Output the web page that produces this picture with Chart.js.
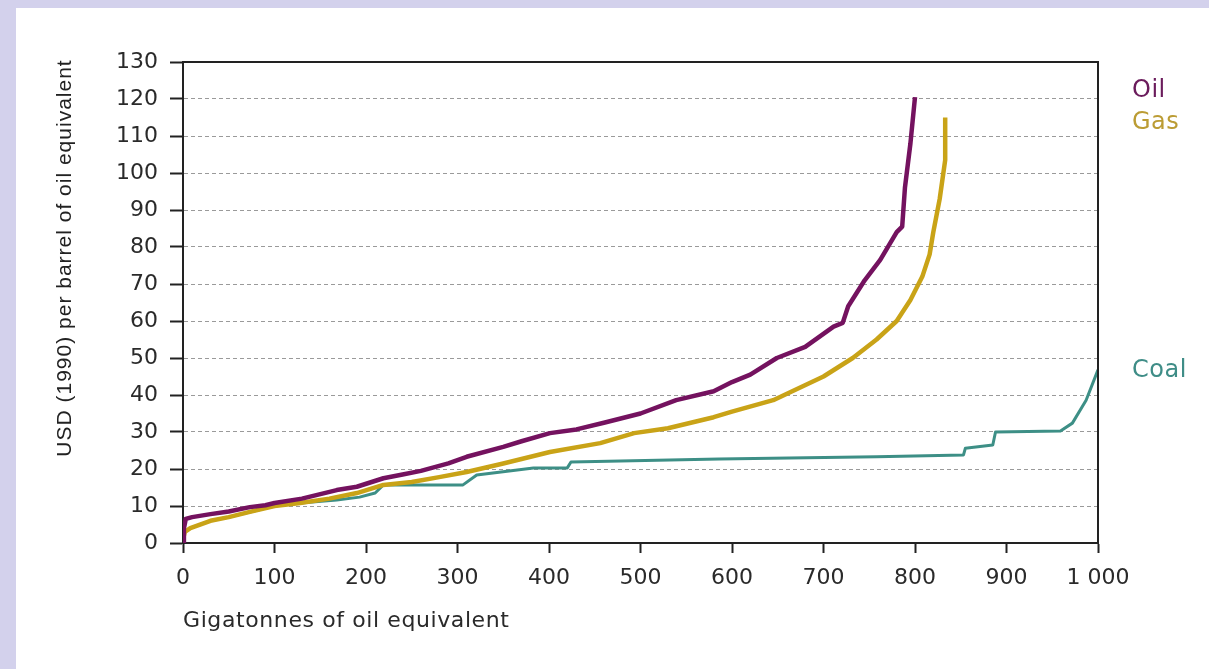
<!DOCTYPE html>
<html>
<head>
<meta charset="utf-8">
<title>Fossil fuel supply cost curves</title>
<script src="https://cdn.jsdelivr.net/npm/chart.js@4/dist/chart.umd.min.js"></script>
<style>
  html, body { margin: 0; padding: 0; background: #d3d1ec; overflow: hidden; }
  #panel { position: absolute; left: 16px; top: 8px; width: 1193px; height: 661px; background: #fff; }
</style>
</head>
<body>
<div id="panel"><canvas id="chart"></canvas></div>
<script>
  // Gigatonnes of oil equivalent (x) vs USD (1990) per barrel of oil equivalent (y)
  const oilX = [0, 1, 3, 10, 30, 50, 73, 90, 100, 130, 168, 190, 219, 240, 260, 290, 310, 350, 370, 401, 430, 460, 500, 539, 580, 600, 620, 649, 680, 711, 721, 727, 745, 762, 780, 786, 789, 795, 800];
  const oilY = [0, 4, 6.5, 7, 7.8, 8.5, 9.7, 10.2, 10.8, 12, 14.3, 15.2, 17.5, 18.5, 19.5, 21.5, 23.3, 26, 27.5, 29.7, 30.7, 32.5, 35, 38.6, 41, 43.5, 45.5, 50, 53, 58.5, 59.5, 64, 71, 76.5, 84, 85.5, 96, 108, 120.5];

  const gasX = [0, 2, 8, 30, 50, 73, 100, 128, 160, 190, 219, 250, 280, 310, 350, 401, 456, 493, 530, 580, 600, 645, 700, 732, 758, 780, 795, 808, 816, 820, 827, 833, 833];
  const gasY = [1, 3, 4, 6, 7, 8.4, 10, 10.8, 12, 13.5, 15.7, 16.5, 17.8, 19.2, 21.5, 24.6, 27, 29.7, 31, 34, 35.5, 38.6, 45, 50, 55, 60, 65.7, 72, 78, 84, 93, 103.5, 115];

  const coalX = [0, 2, 8, 30, 50, 73, 100, 128, 168, 193, 210, 219, 306, 321, 383, 420, 424, 586, 758, 853, 855, 885, 888, 959, 972, 987, 1000];
  const coalY = [1, 3, 4, 6, 7, 8.4, 10, 10.8, 11.6, 12.4, 13.5, 15.7, 15.7, 18.4, 20.3, 20.3, 21.9, 22.7, 23.3, 23.8, 25.6, 26.5, 30, 30.3, 32.4, 38.6, 46.8];

  const seriesNames = ['Oil', 'Gas', 'Coal'];
  const yTitle = 'USD (1990) per barrel of oil equivalent';
  const xTitle = 'Gigatonnes of oil equivalent';

  const colors = { Oil: '#74125f', Gas: '#c9a317', Coal: '#3d8f86' };
  const labelColors = { Oil: '#6b1c5c', Gas: '#bb9c34', Coal: '#3f8d87' };
  const tickFont = { family: 'DejaVu Sans', size: 22 };

  const pts = (xs, ys) => xs.map((x, i) => ({ x, y: ys[i] }));

  // cadre + titres + étiquettes en bout de courbe
  const decorPlugin = {
    id: 'decor',
    afterDraw(chart) {
      const { ctx, chartArea: a } = chart;
      ctx.save();
      ctx.strokeStyle = '#222';
      ctx.lineWidth = 2;
      ctx.beginPath();
      ctx.moveTo(a.left, a.top);
      ctx.lineTo(a.right, a.top);
      ctx.lineTo(a.right, a.bottom);
      ctx.stroke();

      ctx.fillStyle = '#222';
      ctx.font = '21px "Liberation Sans"';
      ctx.letterSpacing = '1px';
      ctx.textAlign = 'center';
      ctx.textBaseline = 'middle';
      ctx.translate(49, 250);
      ctx.rotate(-Math.PI / 2);
      ctx.fillText(yTitle, 0, 0);
      ctx.restore();

      ctx.save();
      ctx.fillStyle = '#2a2a2a';
      ctx.font = '22px "DejaVu Sans"';
      ctx.letterSpacing = '0.6px';
      ctx.textAlign = 'left';
      ctx.textBaseline = 'middle';
      ctx.fillText(xTitle, a.left, 613);

      ctx.font = '24px "DejaVu Sans"';
      ctx.letterSpacing = '0.5px';
      const lx = a.right + 34;
      const ly = { Oil: 83, Gas: 115, Coal: 363 };
      seriesNames.forEach(n => {
        ctx.fillStyle = labelColors[n];
        ctx.fillText(n, lx, ly[n]);
      });
      ctx.restore();
    }
  };

  new Chart(document.getElementById('chart'), {
    type: 'line',
    data: {
      datasets: [
        { label: 'Oil', data: pts(oilX, oilY), borderColor: colors.Oil, borderWidth: 4.5 },
        { label: 'Gas', data: pts(gasX, gasY), borderColor: colors.Gas, borderWidth: 4.5 },
        { label: 'Coal', data: pts(coalX, coalY), borderColor: colors.Coal, borderWidth: 3 }
      ]
    },
    options: {
      responsive: true,
      maintainAspectRatio: false,
      animation: false,
      elements: {
        point: { radius: 0, hoverRadius: 0 },
        line: { tension: 0, borderJoinStyle: 'round', borderCapStyle: 'butt', fill: false }
      },
      layout: { padding: { left: 0, top: 54, right: 111, bottom: 0 } },
      plugins: { legend: { display: false }, tooltip: { enabled: false } },
      scales: {
        x: {
          type: 'linear',
          min: 0, max: 1000,
          afterFit: (s) => { s.height = 126; },
          ticks: {
            stepSize: 100,
            color: '#2a2a2a',
            font: tickFont,
            padding: 12,
            maxRotation: 0,
            callback: v => v === 1000 ? '1 000' : String(v)
          },
          grid: { drawOnChartArea: false, drawTicks: true, tickLength: 10, tickColor: '#222', tickWidth: 2 },
          border: { color: '#222', width: 2 }
        },
        y: {
          min: 0, max: 130,
          afterFit: (s) => { s.width = 167; },
          ticks: { stepSize: 10, color: '#2a2a2a', font: tickFont, padding: 12 },
          grid: {
            color: (c) => (c.tick && (c.tick.value === 0 || c.tick.value === 130)) ? 'rgba(0,0,0,0)' : '#9a9a9a',
            lineWidth: 1,
            tickLength: 13,
            tickColor: '#222',
            tickWidth: 2
          },
          border: { color: '#222', width: 2, dash: [4, 3] }
        }
      }
    },
    plugins: [decorPlugin]
  });
</script>
</body>
</html>
